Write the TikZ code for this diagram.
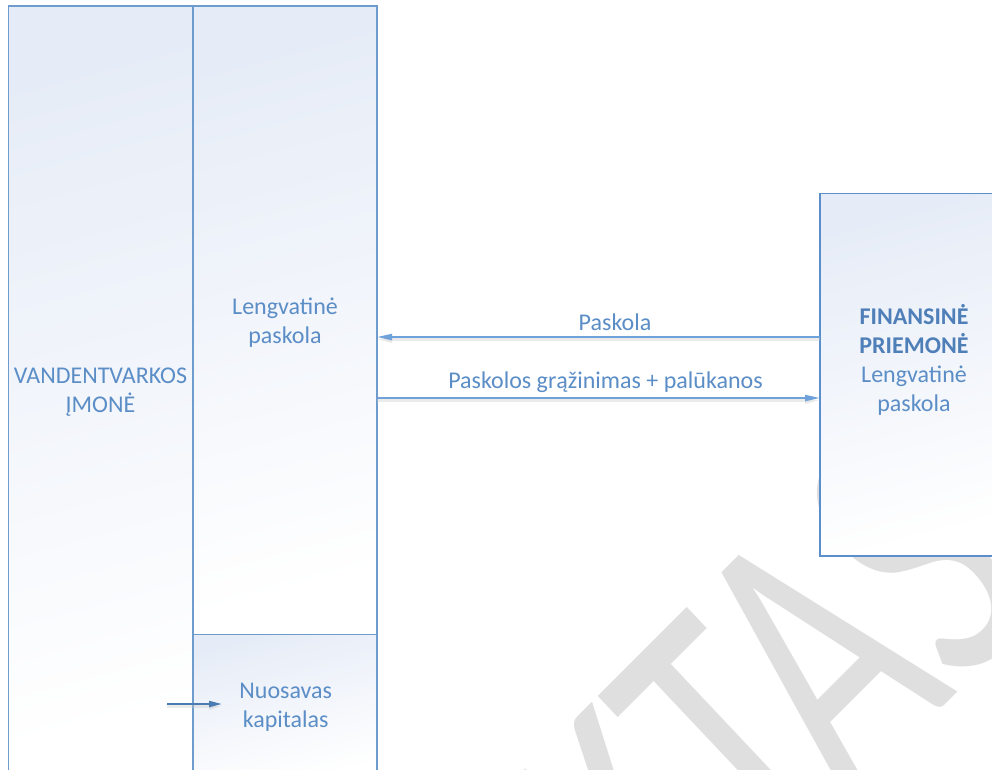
\documentclass[tikz,border=0pt]{standalone}
\usepackage{fontspec}
\setmainfont{Carlito}
\usetikzlibrary{arrows.meta}
\definecolor{boxline}{HTML}{6E9CCD}
\definecolor{rboxline}{HTML}{5A8FCB}
\definecolor{txtblue}{HTML}{5B8DC6}
\definecolor{boldblue}{HTML}{4F7FB8}
\definecolor{arrblue}{HTML}{6FA2DA}
\definecolor{darkarr}{HTML}{4A7BB3}
\definecolor{shadeblue}{HTML}{E6ECF7}
\definecolor{wmgray}{HTML}{DFDFDF}
\begin{document}
\begin{tikzpicture}[x=1pt,y=-1pt,
  box/.style={draw=boxline, line width=1.3pt, rectangle, inner sep=0pt, outer sep=0pt,
              top color=shadeblue, bottom color=white, shading angle=15},
  lbl/.style={text=txtblue, font=\fontsize{24}{29}\selectfont, align=center, inner sep=0pt},
  arr/.style={draw=arrblue, line width=2pt, -{Triangle[length=15pt,width=6pt]},
              preaction={draw=gray!45, opacity=0.35, line width=3pt, transform canvas={yshift=-2.5pt}}},
  arrdark/.style={draw=darkarr, line width=2pt, -{Triangle[length=13pt,width=6pt]},
              preaction={draw=gray!45, opacity=0.35, line width=3pt, transform canvas={yshift=-2.5pt}}},
]
\useasboundingbox (0,0) rectangle (992,769);
\clip (0,0) rectangle (992,769);
\fill[white] (0,0) rectangle (992,769);
% watermark
\begin{scope}[shift={(1046.7,603.3)}, cm={0.519,0.519,-0.727,0.770,(0,0)}]
\node[transform shape, anchor=base east, text=wmgray, font=\fontsize{370}{370}\selectfont, inner sep=0pt] (wm) at (0,0) {PROJEKTAS};
\end{scope}
% boxes
\node[box, minimum width=184.5pt, minimum height=774pt] (vi) at (100.75,393) {};
\node[box, minimum width=184pt, minimum height=628.5pt] (lp) at (285,320.25) {};
\node[box, minimum width=184pt, minimum height=145.5pt] (nk) at (285,707.25) {};
\node[box, draw=rboxline, minimum width=190pt, minimum height=362.5pt] (fp) at (915,374.75) {};
% texts
\node[lbl, anchor=base] (tvi) at (100.5,412) {VANDENTVARKOS\\ĮMONĖ};
\node[lbl, anchor=base] (tlp) at (285,343) {Lengvatinė\\paskola};
\node[lbl, anchor=base] (tnk) at (285.7,727) {Nuosavas\\kapitalas};
\node[lbl, anchor=base] (tfp) at (914,411) {\textbf{\textcolor{boldblue}{FINANSINĖ}}\\\textbf{\textcolor{boldblue}{PRIEMONĖ}}\\Lengvatinė\\paskola};
\node[lbl, anchor=base] (tpa) at (615,330) {Paskola};
\node[lbl, anchor=base] (tgr) at (605.5,388) {Paskolos grąžinimas + palūkanos};
% arrows
\coordinate (pA) at (0,337);
\coordinate (pB) at (0,398);
\draw[arr] (fp.west |- pA) -- (lp.east |- pA);
\draw[arr] (lp.east |- pB) -- (fp.west |- pB);
\coordinate (s0) at (167,704);
\coordinate (s1) at (222,704);
\draw[arrdark] (s0) -- (s1);
\end{tikzpicture}
\end{document}
